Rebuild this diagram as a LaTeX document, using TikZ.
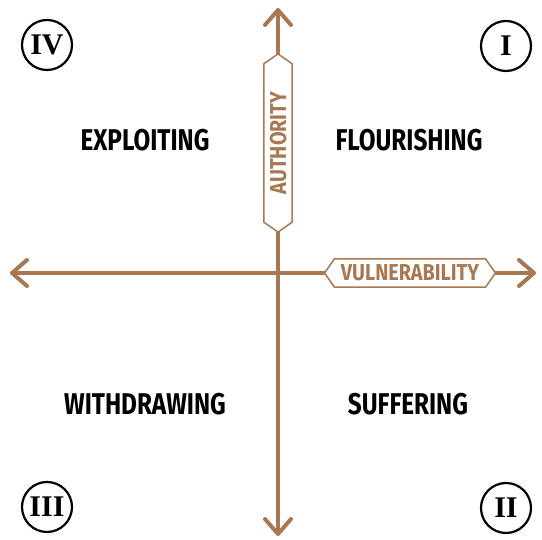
\documentclass[tikz,border=0pt]{standalone}
\usepackage{fontspec}
\newfontfamily\quadfont[FakeStretch=0.81]{Fira Sans}
\newfontfamily\axisfont[FakeStretch=0.86]{Fira Sans}
\newfontfamily\numfont{Liberation Serif}
\usetikzlibrary{arrows.meta,shapes.symbols,positioning}
\definecolor{axisbrown}{RGB}{168,120,82}
\tikzset{
  axis/.style={draw=axisbrown, line width=4pt,
    {Straight Barb[length=15pt,width=26pt,round]}-{Straight Barb[length=15pt,width=26pt,round]}},
  axislabel/.style={signal, signal to=east and west, signal pointer angle=110,
    draw=axisbrown, line width=1.5pt, fill=white, text=axisbrown,
    font=\axisfont\bfseries\fontsize{23}{23}\selectfont,
    text height=16pt, text depth=0pt, inner ysep=6.2pt},
  quadrant/.style={font=\quadfont\bfseries\fontsize{30}{30}\selectfont},
  numeral/.style={circle, draw, line width=2.2pt, minimum size=50pt, inner sep=0pt,
    font=\numfont\bfseries\fontsize{30}{30}\selectfont}
}
\begin{document}
\begin{tikzpicture}[x=1pt,y=1pt]
\useasboundingbox (0,0) rectangle (542,540);
\coordinate (O) at (278,267);
\coordinate (top) at (278,532);
\coordinate (bottom) at (278,4);
\coordinate (left) at (10,267);
\coordinate (right) at (536,267);
\draw[axis] (left) -- (right);
\draw[axis] (bottom) -- (top);
\node[axislabel, rotate=90, inner xsep=28pt] (authority) at (278,397) {AUTHORITY};
\node[axislabel, inner xsep=6.5pt] (vulnerability) at (410,267) {VULNERABILITY};
\node[quadrant] (exploiting) at (145,400) {EXPLOITING};
\node[quadrant] (flourishing) at (409,400) {FLOURISHING};
\node[quadrant] (withdrawing) at (145,136) {WITHDRAWING};
\node[quadrant] (suffering) at (408,136) {SUFFERING};
\node[numeral] (q1) at (506,494) {I};
\node[numeral] (q2) at (506,32) {II};
\node[numeral] (q3) at (47,33) {III};
\node[numeral] (q4) at (47,495) {IV};
\end{tikzpicture}
\end{document}
